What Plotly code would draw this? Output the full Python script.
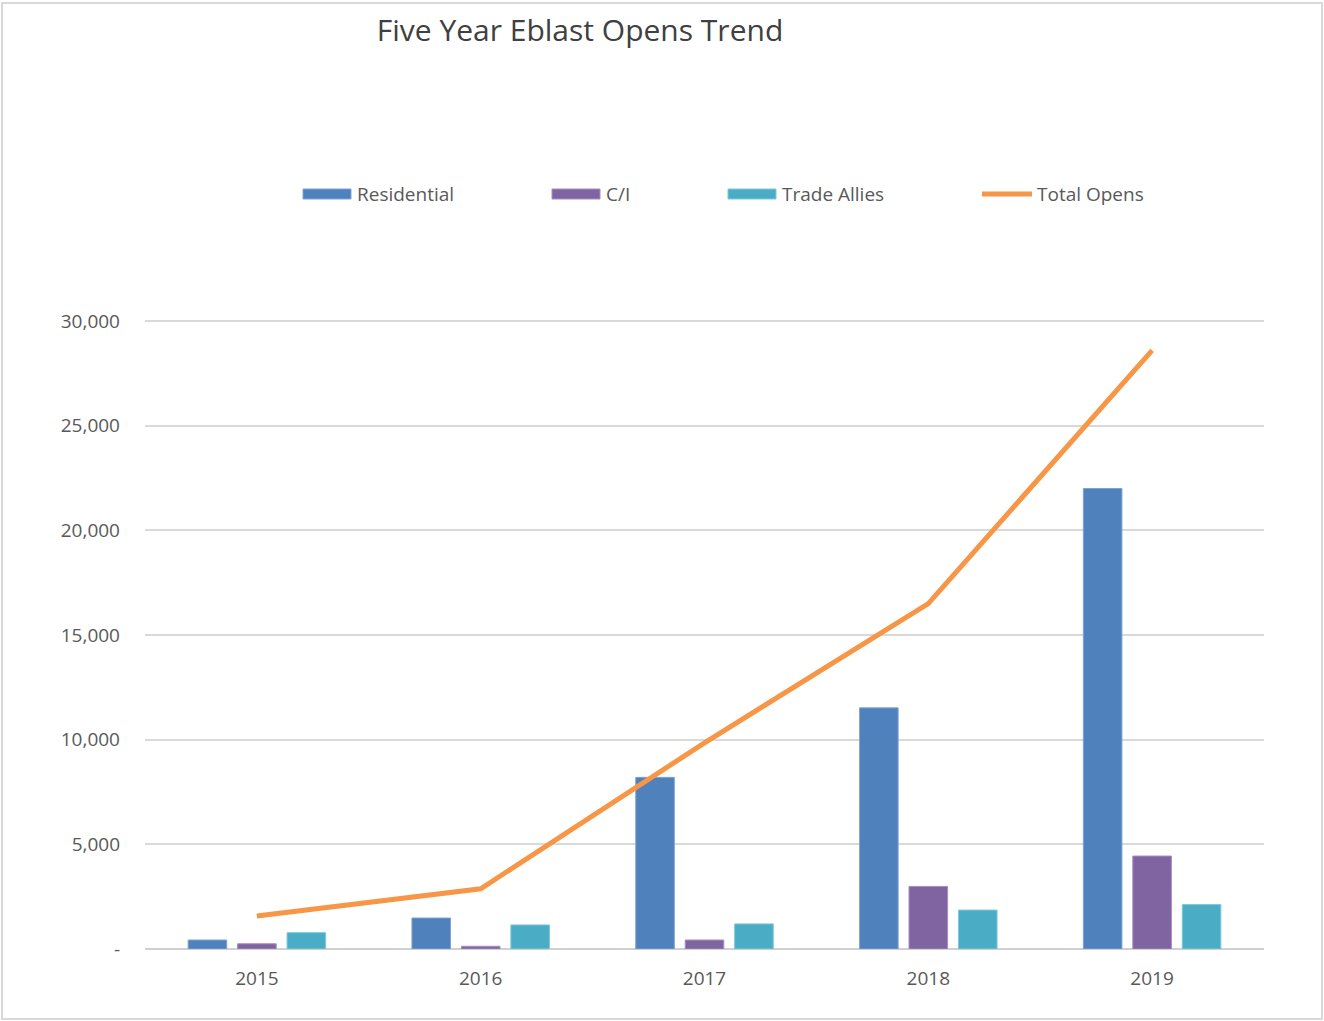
import plotly.graph_objects as go

years = ["2015", "2016", "2017", "2018", "2019"]
residential = [430, 1480, 8200, 11520, 22000]
ci = [250, 130, 430, 2990, 4440]
trade_allies = [780, 1150, 1200, 1860, 2120]
total_opens = [1580, 2880, 9850, 16500, 28600]

y_ticks = [0, 5000, 10000, 15000, 20000, 25000, 30000]
y_tick_labels = ["-", "5,000", "10,000", "15,000", "20,000", "25,000", "30,000"]

colors = {"Residential": "#4F81BD", "C/I": "#8064A2", "Trade Allies": "#4BACC6", "Total Opens": "#F79646"}
edge = {"Residential": "#7EA3D3", "C/I": "#A48DC0", "Trade Allies": "#7CC8DC"}

W, H = 1324, 1021
L, R, T, B = 145, 60, 320, 72
PW, PH = W - L - R, H - T - B
Y_MAX = 30050

def px(x):
    return (x - L) / PW

def py(y):
    return (H - B - y) / PH

fig = go.Figure()
for name, vals in [("Residential", residential), ("C/I", ci), ("Trade Allies", trade_allies)]:
    fig.add_trace(go.Bar(x=years, y=vals, name=name, marker=dict(color=colors[name], line=dict(color=edge[name], width=1)), showlegend=False))
fig.add_trace(go.Scatter(x=years, y=total_opens, name="Total Opens", mode="lines",
                         line=dict(color=colors["Total Opens"], width=5), showlegend=False))

font_color = "#595959"
shapes = []
annotations = []
# legend
leg_y = 194
for name, x0, tx in [("Residential", 303, 355), ("C/I", 552, 604), ("Trade Allies", 728, 780)]:
    shapes.append(dict(type="rect", xref="paper", yref="paper", x0=px(x0), x1=px(x0 + 48),
                       y0=py(leg_y + 5), y1=py(leg_y - 5), fillcolor=colors[name], line=dict(color=edge[name], width=1)))
    annotations.append(dict(xref="paper", yref="paper", x=px(tx), y=py(leg_y), text=name, showarrow=False,
                            xanchor="left", yanchor="middle", font=dict(size=19, color=font_color)))
shapes.append(dict(type="line", xref="paper", yref="paper", x0=px(982), x1=px(1032), y0=py(leg_y), y1=py(leg_y),
                   line=dict(color=colors["Total Opens"], width=5)))
annotations.append(dict(xref="paper", yref="paper", x=px(1035), y=py(leg_y), text="Total Opens", showarrow=False,
                        xanchor="left", yanchor="middle", font=dict(size=19, color=font_color)))
# outer frame
shapes.append(dict(type="rect", xref="paper", yref="paper", x0=px(2), x1=px(1322), y0=py(1019), y1=py(3),
                   line=dict(color="#d9d9d9", width=2), fillcolor="rgba(0,0,0,0)", layer="below"))

fig.update_layout(
    width=W, height=H,
    margin=dict(l=L, r=R, t=T, b=B),
    paper_bgcolor="white", plot_bgcolor="white",
    font=dict(family="Open Sans", color=font_color),
    title=dict(text="Five Year Eblast Opens Trend", xref="paper", x=px(580), xanchor="center",
               yref="container", y=1 - 30 / H, yanchor="middle",
               font=dict(size=30, color="#404040", family="Open Sans")),
    barmode="group", bargap=0.337, bargroupgap=0.22,
    shapes=shapes, annotations=annotations,
)
fig.update_xaxes(type="category", range=[-0.5, 4.5], showgrid=False, showline=False, ticks="",
                 ticklabelstandoff=16, tickfont=dict(size=19, color=font_color), fixedrange=True)
fig.update_yaxes(range=[0, Y_MAX], tickvals=y_ticks, ticktext=y_tick_labels, showgrid=True,
                 gridcolor="#d9d9d9", gridwidth=2, zeroline=True, zerolinecolor="#d0d0d0", zerolinewidth=2,
                 showline=False, ticks="", ticklabelstandoff=24, tickfont=dict(size=19, color=font_color))

fig.write_html("out.html")
